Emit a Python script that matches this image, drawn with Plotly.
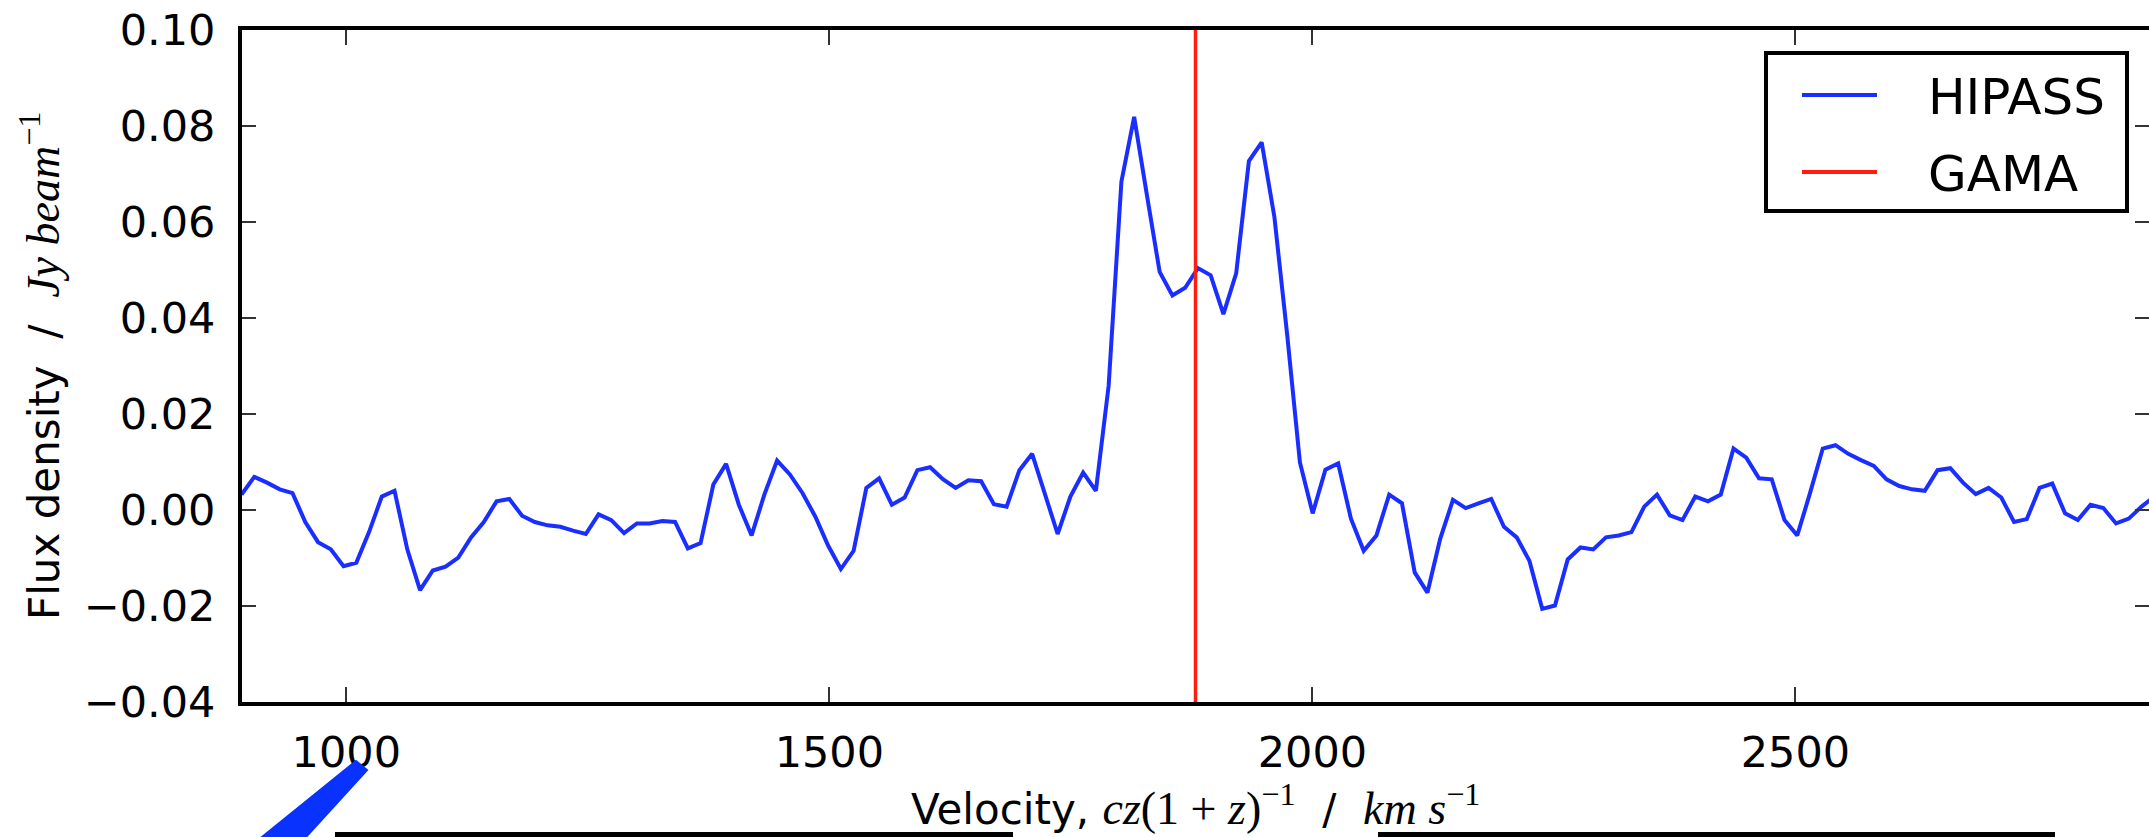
import plotly.graph_objects as go

# ---------------- data ----------------
velocity = [
    891.5, 904.7, 917.9, 931.1, 944.3, 957.5, 970.7, 983.9, 997.1, 1010.3,
    1023.5, 1036.7, 1049.9, 1063.1, 1076.3, 1089.5, 1102.7, 1115.9, 1129.1, 1142.3,
    1155.5, 1168.7, 1181.9, 1195.1, 1208.3, 1221.5, 1234.7, 1247.9, 1261.1, 1274.3,
    1287.5, 1300.7, 1313.9, 1327.1, 1340.3, 1353.5, 1366.7, 1379.9, 1393.1, 1406.3,
    1419.5, 1432.7, 1445.9, 1459.1, 1472.3, 1485.5, 1498.7, 1511.9, 1525.1, 1538.3,
    1551.5, 1564.7, 1577.9, 1591.1, 1604.3, 1617.5, 1630.7, 1643.9, 1657.1, 1670.3,
    1683.5, 1696.7, 1709.9, 1723.1, 1736.3, 1749.5, 1762.7, 1775.9, 1789.1, 1802.3,
    1815.5, 1828.7, 1841.9, 1855.1, 1868.3, 1881.5, 1894.7, 1907.9, 1921.1, 1934.3,
    1947.5, 1960.7, 1973.9, 1987.1, 2000.3, 2013.5, 2026.7, 2039.9, 2053.1, 2066.3,
    2079.5, 2092.7, 2105.9, 2119.1, 2132.3, 2145.5, 2158.7, 2171.9, 2185.1, 2198.3,
    2211.5, 2224.7, 2237.9, 2251.1, 2264.3, 2277.5, 2290.7, 2303.9, 2317.1, 2330.3,
    2343.5, 2356.7, 2369.9, 2383.1, 2396.3, 2409.5, 2422.7, 2435.9, 2449.1, 2462.3,
    2475.5, 2488.7, 2501.9, 2515.1, 2528.3, 2541.5, 2554.7, 2567.9, 2581.1, 2594.3,
    2607.5, 2620.7, 2633.9, 2647.1, 2660.3, 2673.5, 2686.7, 2699.9, 2713.1, 2726.3,
    2739.5, 2752.7, 2765.9, 2779.1, 2792.3, 2805.5, 2818.7, 2831.9, 2845.1, 2858.3,
    2871.5,
]

hipass_flux = [
    0.0032, 0.0069, 0.0057, 0.0043, 0.0035, -0.0025, -0.0067, -0.0082, -0.0117, -0.0110,
    -0.0046, 0.0028, 0.0040, -0.0082, -0.0167, -0.0126, -0.0118, -0.0099, -0.0057, -0.0025,
    0.0018, 0.0023, -0.0012, -0.0025, -0.0032, -0.0035, -0.0043, -0.0050, -0.0009, -0.0021,
    -0.0048, -0.0028, -0.0028, -0.0023, -0.0025, -0.0080, -0.0069, 0.0053, 0.0096, 0.0011,
    -0.0053, 0.0032, 0.0103, 0.0074, 0.0035, -0.0014, -0.0074, -0.0123, -0.0085, 0.0046,
    0.0066, 0.0011, 0.0026, 0.0083, 0.0089, 0.0064, 0.0046, 0.0062, 0.0060, 0.0012,
    0.0007, 0.0083, 0.0117, 0.0033, -0.0050, 0.0028, 0.0078, 0.0040, 0.0259, 0.0684,
    0.0819, 0.0656, 0.0496, 0.0447, 0.0463, 0.0504, 0.0489, 0.0408, 0.0493, 0.0727,
    0.0766, 0.0610, 0.0365, 0.0099, -0.0007, 0.0084, 0.0097, -0.0018, -0.0085, -0.0053,
    0.0032, 0.0014, -0.0130, -0.0172, -0.0060, 0.0021, 0.0004, 0.0014, 0.0023, -0.0035,
    -0.0057, -0.0106, -0.0206, -0.0199, -0.0103, -0.0078, -0.0082, -0.0057, -0.0053, -0.0046,
    0.0007, 0.0032, -0.0011, -0.0021, 0.0028, 0.0018, 0.0032, 0.0128, 0.0109, 0.0066,
    0.0064, -0.0021, -0.0053, 0.0035, 0.0128, 0.0135, 0.0117, 0.0104, 0.0092, 0.0064,
    0.0050, 0.0043, 0.0040, 0.0083, 0.0087, 0.0057, 0.0033, 0.0046, 0.0026, -0.0025,
    -0.0019, 0.0046, 0.0055, -0.0007, -0.0021, 0.0011, 0.0004, -0.0028, -0.0018, 0.0007,
    0.0028,
]

gama_velocity = 1879.0
series_names = ["HIPASS", "GAMA"]
x_tick_vals = [1000, 1500, 2000, 2500]
y_tick_vals = [-0.04, -0.02, 0.00, 0.02, 0.04, 0.06, 0.08, 0.10]
y_tick_text = ["\u22120.04", "\u22120.02", "0.00", "0.02", "0.04", "0.06", "0.08", "0.10"]
x_range = [892, 2866]
y_range = [-0.04, 0.10]

# ---------------- layout helpers ----------------
W, H = 2149, 837
L, R, T, B = 242, 0, 30, 135
PW, PH = W - L - R, H - T - B

def px(xp):
    return (xp - L) / PW

def py(yp):
    return (H - B - yp) / PH

BLUE = "#1a2eff"
RED = "#ff1e0e"
FONT = "DejaVu Sans"
SERIF = "Liberation Serif"

fig = go.Figure()
fig.add_trace(go.Scatter(x=velocity, y=hipass_flux, mode="lines", name=series_names[0],
                         line=dict(color=BLUE, width=4), showlegend=False))
fig.add_trace(go.Scatter(x=[gama_velocity, gama_velocity], y=y_range, mode="lines",
                         name=series_names[1], line=dict(color=RED, width=3.5), showlegend=False))
# invisible trace for right-hand ticks
fig.add_trace(go.Scatter(x=[x_range[0]], y=[y_range[0]], yaxis="y2", mode="markers",
                         marker=dict(opacity=0), showlegend=False, hoverinfo="skip"))

fig.update_layout(
    width=W, height=H,
    margin=dict(l=L, r=R, t=T, b=B, pad=0),
    paper_bgcolor="white", plot_bgcolor="white",
    font=dict(family=FONT, size=42, color="black"),
    showlegend=False,
    xaxis=dict(range=x_range, tickvals=x_tick_vals, ticks="inside", ticklen=15, tickwidth=2,
               tickcolor="#333333", showline=True, linewidth=4, linecolor="black", mirror="ticks",
               showgrid=False, zeroline=False, tickfont=dict(size=43, family=FONT),
               ticklabelstandoff=9),
    yaxis=dict(range=y_range, tickvals=y_tick_vals, ticktext=y_tick_text, ticks="inside",
               ticklen=14, tickwidth=2, tickcolor="#333333", showline=True, linewidth=4,
               linecolor="black", showgrid=False, zeroline=False,
               tickfont=dict(size=43, family=FONT), ticklabelstandoff=14),
    yaxis2=dict(range=y_range, tickvals=y_tick_vals, overlaying="y", side="right", anchor="x",
                ticks="inside", ticklen=14, tickwidth=2, tickcolor="#333333", showline=False,
                showticklabels=False, showgrid=False, zeroline=False),
)

shapes = []
annotations = []

# legend box (manual, matplotlib style)
shapes.append(dict(type="rect", xref="paper", yref="paper", x0=px(1766), x1=px(2127),
                   y0=py(211), y1=py(53), line=dict(color="black", width=4),
                   fillcolor="white", layer="above"))
for name, col, yy in [(series_names[0], BLUE, 95), (series_names[1], RED, 172)]:
    shapes.append(dict(type="line", xref="paper", yref="paper", x0=px(1802), x1=px(1877),
                       y0=py(yy), y1=py(yy), line=dict(color=col, width=4), layer="above"))
    annotations.append(dict(text=name, xref="paper", yref="paper", x=px(1926), y=py(yy + 2),
                            xanchor="left", yanchor="middle", showarrow=False,
                            font=dict(size=50, family=FONT, color="black")))

# axis titles
x_title = ("Velocity, <span style='font-family:%s;font-size:46px'><i>cz</i>(1 + <i>z</i>)"
           "<sup>\u22121</sup></span>  /  <span style='font-family:%s;font-size:46px'>"
           "<i>km s</i><sup>\u22121</sup></span>") % (SERIF, SERIF)
annotations.append(dict(text=x_title, xref="paper", yref="paper", x=0.5, y=py(805),
                        xanchor="center", yanchor="middle", showarrow=False,
                        font=dict(size=42, family=FONT, color="black")))
y_title = ("Flux density  /  <span style='font-family:%s;font-size:46px'><i>Jy beam</i>"
           "<sup>\u22121</sup></span>" % SERIF)
annotations.append(dict(text=y_title, xref="paper", yref="paper", x=px(40), y=0.5,
                        xanchor="center", yanchor="middle", textangle=-90, showarrow=False,
                        font=dict(size=42, family=FONT, color="black")))

# stray marks at the bottom of the image
scribble = "M %f,%f L %f,%f L %f,%f L %f,%f Z" % (px(356), py(761), px(367), py(770),
                                                    px(306), py(837), px(262), py(837))
shapes.append(dict(type="path", xref="paper", yref="paper", path=scribble,
                   fillcolor="#0a32ff", line=dict(color="#0a32ff", width=2), layer="above"))
for a, b in [(335, 1013), (1378, 2055)]:
    shapes.append(dict(type="rect", xref="paper", yref="paper", x0=px(a), x1=px(b),
                       y0=py(837), y1=py(832), fillcolor="black", line=dict(width=0),
                       layer="above"))

fig.update_layout(shapes=shapes, annotations=annotations)
fig.write_html("out.html")
